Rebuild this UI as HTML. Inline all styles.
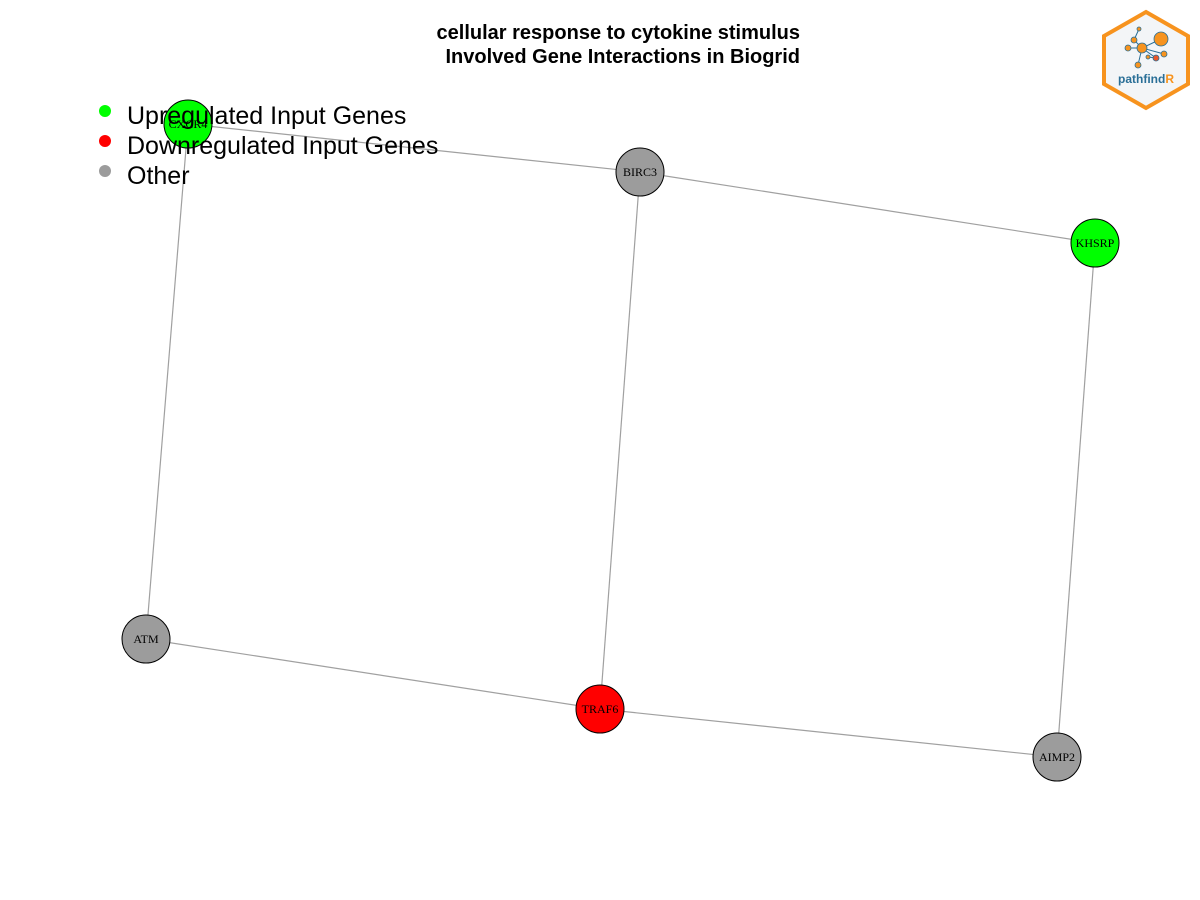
<!DOCTYPE html>
<html><head><meta charset="utf-8"><style>body{margin:0;background:#fff}svg{display:block}</style></head>
<body>
<svg id="c" width="1200" height="900" xmlns="http://www.w3.org/2000/svg">
<text x="800" y="39" text-anchor="end" font-family="Liberation Sans, sans-serif" font-weight="bold" font-size="20">cellular response to cytokine stimulus</text>
<text x="800" y="63" text-anchor="end" font-family="Liberation Sans, sans-serif" font-weight="bold" font-size="20">Involved Gene Interactions in Biogrid</text>
<g id="edges"></g>
<g id="nodes"></g>
<g id="legend"></g>
<g>
<polygon points="1146,12 1188,36 1188,84 1146,108 1104,84 1104,36" fill="#f3f5f7" stroke="#f7931e" stroke-width="4"/>
<g stroke="#2a6f97" stroke-width="1">
<line x1="1142" y1="48" x2="1161" y2="39"/><line x1="1142" y1="48" x2="1128" y2="48"/><line x1="1142" y1="48" x2="1134" y2="40"/><line x1="1142" y1="48" x2="1164" y2="54"/><line x1="1142" y1="48" x2="1138" y2="65"/><line x1="1142" y1="48" x2="1156" y2="58"/><line x1="1134" y1="40" x2="1139" y2="29"/><line x1="1148" y1="57" x2="1156" y2="58"/>
</g>
<g fill="#f7931e" stroke="#2a6f97" stroke-width="0.8">
<circle cx="1161" cy="39" r="7"/><circle cx="1142" cy="48" r="5"/><circle cx="1128" cy="48" r="3"/><circle cx="1134" cy="40" r="3"/><circle cx="1164" cy="54" r="3"/><circle cx="1138" cy="65" r="3"/><circle cx="1139" cy="29" r="2"/><circle cx="1148" cy="57" r="2"/>
<circle cx="1156" cy="58" r="3" fill="#e8572a"/>
</g>
<text x="1146" y="83" text-anchor="middle" font-family="Liberation Sans, sans-serif" font-weight="bold" font-size="12" fill="#2a6f97">pathfind<tspan fill="#f7931e">R</tspan></text>
</g>
</svg>
<script>
const nodeNames = ["CXCR4","BIRC3","KHSRP","ATM","TRAF6","AIMP2"];
const nodeX = [188,640,1095,146,600,1057];
const nodeY = [124,172,243,639,709,757];
const nodeGroup = ["up","other","up","other","down","other"];
const edgeFrom = [0,1,0,1,2,3,4];
const edgeTo = [1,2,3,4,5,4,5];
const legendLabels = ["Upregulated Input Genes","Downregulated Input Genes","Other"];
const groupColor = {up:"#00ff00",down:"#ff0000",other:"#9c9c9c"};
const legendColors = ["#00ff00","#ff0000","#9c9c9c"];
const NS="http://www.w3.org/2000/svg";
const eg=document.getElementById('edges'), ng=document.getElementById('nodes'), lg=document.getElementById('legend');
for(let i=0;i<edgeFrom.length;i++){
  const l=document.createElementNS(NS,'line');
  l.setAttribute('x1',nodeX[edgeFrom[i]]);l.setAttribute('y1',nodeY[edgeFrom[i]]);
  l.setAttribute('x2',nodeX[edgeTo[i]]);l.setAttribute('y2',nodeY[edgeTo[i]]);
  l.setAttribute('stroke','#a0a0a0');l.setAttribute('stroke-width','1.2');
  
  
  eg.appendChild(l);
}
for(let i=0;i<nodeNames.length;i++){
  const g=document.createElementNS(NS,'g');
  
  
  const c=document.createElementNS(NS,'circle');
  c.setAttribute('cx',nodeX[i]);c.setAttribute('cy',nodeY[i]);c.setAttribute('r',24);
  c.setAttribute('fill',groupColor[nodeGroup[i]]);c.setAttribute('stroke','#000');c.setAttribute('stroke-width','1');
  const t=document.createElementNS(NS,'text');
  t.setAttribute('x',nodeX[i]);t.setAttribute('y',nodeY[i]+4);t.setAttribute('text-anchor','middle');
  t.setAttribute('font-family','Liberation Serif, serif');t.setAttribute('font-size','12');
  
  
  t.textContent=nodeNames[i];
  g.appendChild(c);g.appendChild(t);ng.appendChild(g);
}
for(let i=0;i<legendLabels.length;i++){
  const g=document.createElementNS(NS,'g');
  
  
  const c=document.createElementNS(NS,'circle');
  c.setAttribute('cx',105);c.setAttribute('cy',111+i*30);c.setAttribute('r',6);c.setAttribute('fill',legendColors[i]);
  const t=document.createElementNS(NS,'text');
  t.setAttribute('x',127);t.setAttribute('y',124+i*30);
  t.setAttribute('font-family','Liberation Sans, sans-serif');t.setAttribute('font-size','25');
  t.textContent=legendLabels[i];
  g.appendChild(c);g.appendChild(t);lg.appendChild(g);
}
</script>
</body></html>
